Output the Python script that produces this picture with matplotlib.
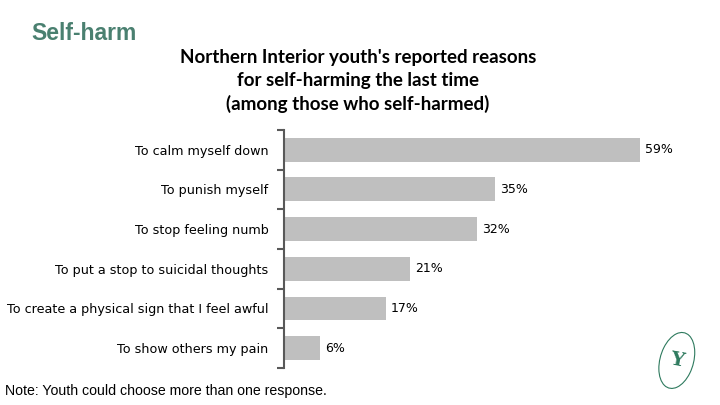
import matplotlib.pyplot as plt
import numpy as np
from matplotlib.patches import Ellipse

reasons = [
    "To calm myself down",
    "To punish myself",
    "To stop feeling numb",
    "To put a stop to suicidal thoughts",
    "To create a physical sign that I feel awful",
    "To show others my pain",
]
percents = [59, 35, 32, 21, 17, 6]

fig = plt.figure(figsize=(7.2, 4.05), dpi=100)
ax = fig.add_axes([0.394, 0.0914, 0.587, 0.588])

y = np.arange(len(reasons))
ax.barh(y, percents, height=0.6, color="#bfbfbf")
ax.set_ylim(len(reasons) - 0.5, -0.5)
ax.set_xlim(0, 70)

ax.set_yticks(y)
ax.set_yticklabels(reasons, fontsize=9.2, family="DejaVu Sans")
ax.tick_params(axis="y", which="major", length=0, pad=11)
ax.set_yticks(np.arange(-0.5, len(reasons)), minor=True)
ax.tick_params(axis="y", which="minor", length=5, width=1.5, color="#595959")
ax.set_xticks([])
for side in ["top", "right", "bottom"]:
    ax.spines[side].set_visible(False)
ax.spines["left"].set_color("#595959")
ax.spines["left"].set_linewidth(1.5)

for yi, v in zip(y, percents):
    ax.text(v + 0.8, yi, f"{v}%", va="center", ha="left", fontsize=9,
            family="DejaVu Sans")

fig.text(0.044, 0.918, "Self-harm", fontsize=16.5, fontweight="bold",
         color="#4a8070", family="Liberation Sans", va="center")
fig.text(0.497, 0.722,
         "Northern Interior youth's reported reasons\nfor self-harming the last time\n(among those who self-harmed)",
         ha="center", va="bottom", fontsize=13.5, fontweight="bold",
         family="Lato", linespacing=1.38)
fig.text(0.007, 0.035, "Note: Youth could choose more than one response.",
         fontsize=10.2, family="Liberation Sans", va="center")

# logo
lax = fig.add_axes([0.9, 0.01, 0.08, 0.2])
lax.set_xlim(0, 1)
lax.set_ylim(0, 1)
lax.axis("off")
lax.add_patch(Ellipse((0.5, 0.5), 0.55, 0.75, angle=-35, fill=False,
                      edgecolor="#2e7a5e", linewidth=0.8))
lax.text(0.5, 0.5, "Y", ha="center", va="center", fontsize=14,
         color="#2e7a5e", family="DejaVu Serif", fontweight="bold", rotation=-10)

fig.savefig("out.png", dpi=100)
